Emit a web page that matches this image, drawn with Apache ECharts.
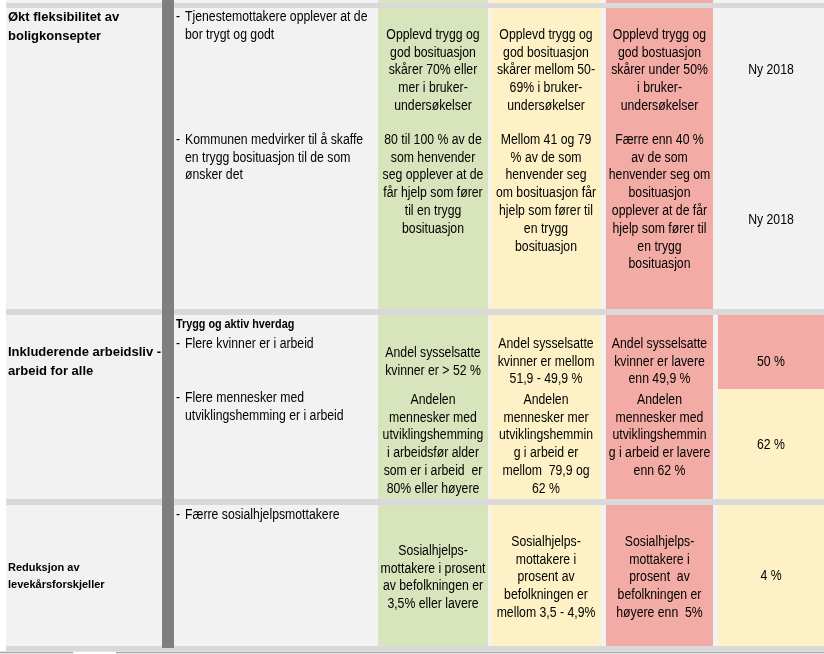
<!DOCTYPE html>
<html><head><meta charset="utf-8">
<script src="https://cdn.jsdelivr.net/npm/echarts@6/dist/echarts.min.js"></script>
<style>html,body{margin:0;padding:0;background:#fff}#c{width:824px;height:654px}</style>
</head><body><div id="c"></div>
<script>
// ================= DATA =================
const goals = ["Økt fleksibilitet av\nboligkonsepter", "Inkluderende arbeidsliv -\narbeid for alle", "Reduksjon av\nlevekårsforskjeller"];
const subheadings = ["", "Trygg og aktiv hverdag", ""];
const indicators = [
  "Tjenestemottakere opplever at de\nbor trygt og godt",
  "Kommunen medvirker til å skaffe\nen trygg bosituasjon til de som\nønsker det",
  "Flere kvinner er i arbeid",
  "Flere mennesker med\nutviklingshemming er i arbeid",
  "Færre sosialhjelpsmottakere"
];
const indicatorGoal = [0, 0, 1, 1, 2];
const greenTargets = [
  "Opplevd trygg og\ngod bosituasjon\nskårer 70% eller\nmer i bruker-\nundersøkelser",
  "80 til 100 % av de\nsom henvender\nseg opplever at de\nfår hjelp som fører\ntil en trygg\nbosituasjon",
  "Andel sysselsatte\nkvinner er > 52 %",
  "Andelen\nmennesker med\nutviklingshemming\ni arbeidsfør alder\nsom er i arbeid  er\n80% eller høyere",
  "Sosialhjelps-\nmottakere i prosent\nav befolkningen er\n3,5% eller lavere"
];
const yellowTargets = [
  "Opplevd trygg og\ngod bosituasjon\nskårer mellom 50-\n69% i bruker-\nundersøkelser",
  "Mellom 41 og 79\n% av de som\nhenvender seg\nom bosituasjon får\nhjelp som fører til\nen trygg\nbosituasjon",
  "Andel sysselsatte\nkvinner er mellom\n51,9 - 49,9 %",
  "Andelen\nmennesker mer\nutviklingshemmin\ng i arbeid er\nmellom  79,9 og\n62 %",
  "Sosialhjelps-\nmottakere i\nprosent av\nbefolkningen er\nmellom 3,5 - 4,9%"
];
const redTargets = [
  "Opplevd trygg og\ngod bostuasjon\nskårer under 50%\ni bruker-\nundersøkelser",
  "Færre enn 40 %\nav de som\nhenvender seg om\nbosituasjon\nopplever at de får\nhjelp som fører til\nen trygg\nbosituasjon",
  "Andel sysselsatte\nkvinner er lavere\nenn 49,9 %",
  "Andelen\nmennesker med\nutviklingshemmin\ng i arbeid er lavere\nenn 62 %",
  "Sosialhjelps-\nmottakere i\nprosent  av\nbefolkningen er\nhøyere enn  5%"
];
const statusTexts = ["Ny 2018", "Ny 2018", "50 %", "62 %", "4 %"];
const statusLevels = ["none", "none", "red", "yellow", "yellow"];

// ================= LAYOUT (units of the hidden value axes) =================
const W = 824, H = 654;
const colA = [6, 162], colBar = [162, 174], colB = [174, 378];
const colC = [378, 488], colD = [491, 601], colE = [606, 713], colF = [718, 824];
const rowBands = [[8, 309], [315, 499], [505, 646]];
const topStrip = [0, 3];
const separators = [[3, 8], [309, 315], [499, 505], [646, 651]];
const statusBands = [[8, 309], [8, 309], [315, 389], [389, 499], [505, 646]];
const goalLineY = [17, 352, 568];
const subheadingY = 325;
const indicatorLineY = [17, 140, 344, 398, 515];
const greenLineY = [35, 140, 353, 400, 551];
const yellowLineY = [35, 140, 344, 400, 542];
const redLineY = [35, 140, 344, 400, 542];
const statusLineY = [70, 220, 362, 445, 576];

// ================= STYLE =================
const FILL = { none: '#f2f2f2', green: '#d8e4bc', yellow: '#fdf1c5', red: '#f3aba5', sep: '#d9d9d9', bar: '#7f7f7f' };
const SANS = "'Liberation Sans',Arial,sans-serif";
const NARROW_SCALE = 0.875;
const TXT = '#000000';
const LH = 17.8;

// ================= BUILD =================
const rects = [];
function rect(xr, yr, fill) { rects.push({ value: [xr[0], yr[0], xr[1], yr[1]], fill: fill }); }
rect([colA[0], W], topStrip, FILL.none);
rect(colC, topStrip, FILL.green); rect(colD, topStrip, FILL.yellow); rect(colE, topStrip, FILL.red);
rowBands.forEach(b => {
  rect([colA[0], W], b, FILL.none);
  rect(colC, b, FILL.green); rect(colD, b, FILL.yellow); rect(colE, b, FILL.red);
});
statusLevels.forEach((lv, i) => { if (lv !== 'none') rect(colF, statusBands[i], FILL[lv]); });
separators.forEach(s => rect([colA[0], W], s, FILL.sep));
rect(colBar, [0, 648], FILL.bar);
rect([0, W], [651, H], '#e3e3e3');
rect([0, W], [652, 653], '#a6a6a6');
rect([73, 116], [652, H], '#ffffff');

const texts = [];
function txt(x, y, text, font, align, lh, sx) { texts.push({ value: [x, y], text, font, align, lh, sx: sx || 1 }); }
const mid = c => (c[0] + c[1]) / 2;
const body = `14px ${SANS}`;
goals.forEach((g, i) => {
  const fs = i === 2 ? 11 : 13, lh = i === 2 ? 17 : 19;
  txt(colA[0] + 2, goalLineY[i] - lh / 2, g, `bold ${fs}px ${SANS}`, 'left', lh, 1);
});
subheadings.forEach((s) => { if (s) txt(colB[0] + 2, subheadingY - 8, s, `bold 12px ${SANS}`, 'left', 16, 0.9); });
indicators.forEach((t, i) => {
  txt(colB[0] + 2, indicatorLineY[i] - LH / 2, '-', body, 'left', LH, NARROW_SCALE);
  txt(colB[0] + 11, indicatorLineY[i] - LH / 2, t, body, 'left', LH, NARROW_SCALE);
  txt(mid(colC), greenLineY[i] - LH / 2, greenTargets[i], body, 'center', LH, NARROW_SCALE);
  txt(mid(colD), yellowLineY[i] - LH / 2, yellowTargets[i], body, 'center', LH, NARROW_SCALE);
  txt(mid(colE), redLineY[i] - LH / 2, redTargets[i], body, 'center', LH, NARROW_SCALE);
  txt(mid(colF), statusLineY[i] - LH / 2, statusTexts[i], body, 'center', LH, NARROW_SCALE);
});

const chart = echarts.init(document.getElementById('c'), null, { renderer: 'canvas' });
chart.setOption({
  animation: false,
  grid: { left: 0, right: 0, top: 0, bottom: 0 },
  xAxis: { type: 'value', min: 0, max: W, show: false },
  yAxis: { type: 'value', min: 0, max: H, inverse: true, show: false },
  series: [
    {
      type: 'custom', silent: true, coordinateSystem: 'cartesian2d',
      encode: { x: [0, 2], y: [1, 3] },
      data: rects,
      renderItem: (params, api) => {
        const p0 = api.coord([api.value(0), api.value(1)]);
        const p1 = api.coord([api.value(2), api.value(3)]);
        return { type: 'rect', shape: { x: p0[0], y: p0[1], width: p1[0] - p0[0], height: p1[1] - p0[1] },
                 style: { fill: rects[params.dataIndex].fill } };
      }
    },
    {
      type: 'custom', silent: true, coordinateSystem: 'cartesian2d',
      encode: { x: 0, y: 1 },
      data: texts, z: 5,
      renderItem: (params, api) => {
        const t = texts[params.dataIndex];
        const p = api.coord([api.value(0), api.value(1)]);
        return { type: 'text', x: p[0], y: p[1], scaleX: t.sx, scaleY: 1,
                 style: { text: t.text, font: t.font, fill: TXT, align: t.align, verticalAlign: 'top',
                          textAlign: t.align, textVerticalAlign: 'top', lineHeight: t.lh } };
      }
    }
  ]
});
</script></body></html>
